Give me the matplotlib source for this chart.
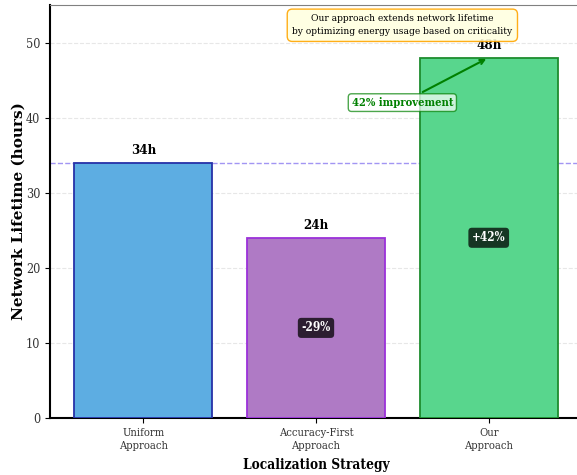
import numpy as np
import matplotlib
matplotlib.use("Agg")
import matplotlib.pyplot as plt

plt.rcParams["font.family"] = "DejaVu Serif"
plt.rcParams["font.stretch"] = "condensed"

strategies = ["Uniform\nApproach", "Accuracy-First\nApproach", "Our\nApproach"]
lifetime = [34, 24, 48]
fill_colors = ["#5DADE2", "#AF7AC5", "#58D68D"]
edge_colors = ["#2632A8", "#9B30D9", "#1E8C2E"]
change_labels = [None, "-29%", "+42%"]
baseline = 34

fig = plt.figure(figsize=(5.77, 4.75), dpi=100)
ax = fig.add_axes([50 / 577, 57 / 475, 532 / 577, 413 / 475])

x = np.arange(len(strategies))
bars = ax.bar(x, lifetime, width=0.8, color=fill_colors, edgecolor=edge_colors,
              linewidth=1.3, zorder=3)

# value labels above each bar
for xi, v in zip(x, lifetime):
    ax.text(xi, v + 0.8, f"{v}h", ha="center", va="bottom", fontsize=9.5,
            fontweight="bold", zorder=4)

# relative change vs. the uniform baseline, centred in the bar
for xi, v, lab in zip(x, lifetime, change_labels):
    if lab is None:
        continue
    ax.text(xi, v / 2, lab, ha="center", va="center", fontsize=8.5,
            fontweight="bold", color="white", zorder=5,
            bbox=dict(boxstyle="round,pad=0.3", fc="black", ec="none", alpha=0.75))

ax.axhline(baseline, color="#7B68EE", linestyle="--", linewidth=1, alpha=0.7, zorder=2)

ax.annotate("42% improvement", xy=(2, 48), xytext=(1.5, 42),
            ha="center", va="center", fontsize=8, fontweight="bold", color="green",
            arrowprops=dict(arrowstyle="->", color="green", lw=1.5),
            bbox=dict(boxstyle="round,pad=0.3", fc="white", ec="green", alpha=0.7),
            zorder=6)

ax.text(1.5, 52.3, "Our approach extends network lifetime\nby optimizing energy usage based on criticality",
        ha="center", va="center", fontsize=7.3, linespacing=1.6, zorder=7,
        bbox=dict(boxstyle="round,pad=0.5", fc="lightyellow", ec="orange", alpha=0.9))

ax.set_ylim(0, 55)
ax.set_xlim(-0.54, 2.54)
ax.set_xticks(x)
ax.set_xticklabels(strategies, fontsize=8)
for lbl in ax.get_xticklabels():
    lbl.set_linespacing(1.4)
ax.tick_params(axis="both", labelcolor="#333333")
ax.tick_params(axis="y", labelsize=9)
ax.set_ylabel("Network Lifetime (hours)", fontsize=11, fontweight="bold",
              fontstretch="normal", labelpad=0)
ax.set_xlabel("Localization Strategy", fontsize=9.8, fontweight="bold", labelpad=5)
ax.grid(axis="y", linestyle="--", alpha=0.3, zorder=0)
ax.spines["left"].set_linewidth(1.5)
ax.spines["bottom"].set_linewidth(1.5)
ax.spines["top"].set_color("gray")

fig.savefig("out.png", dpi=100)
